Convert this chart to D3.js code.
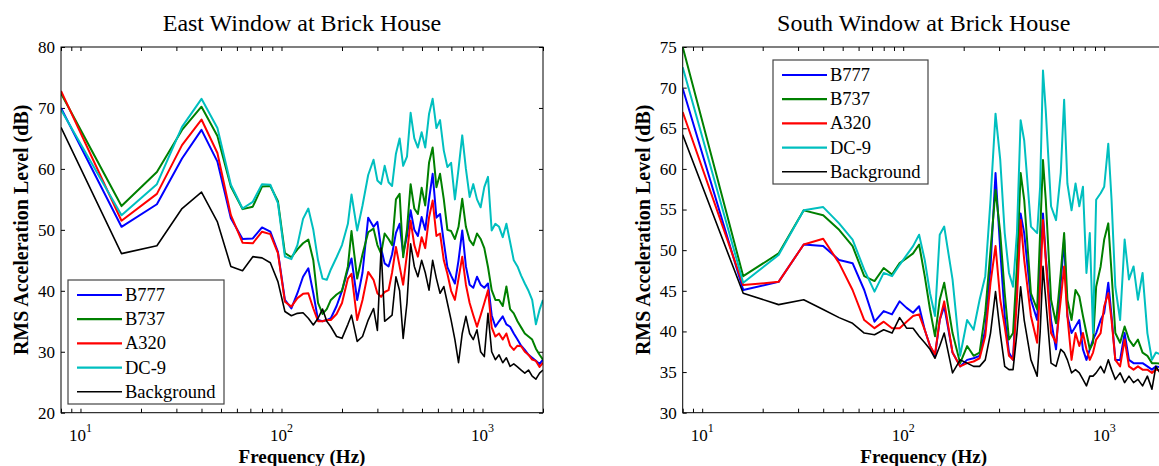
<!DOCTYPE html>
<html><head><meta charset="utf-8">
<script src="https://cdn.jsdelivr.net/npm/d3@7"></script>
<style>
body{margin:0;background:#fff}
svg{display:block}
text{font-family:"Liberation Serif","Times New Roman",serif;fill:#000}
</style>
</head><body>
<svg id="c" width="1159" height="466"></svg>
<script>
const seriesNames = ["B777","B737","A320","DC-9","Background"];
const seriesColors = ["#0000ff","#008000","#ff0000","#00bfbf","#000000"];
const yTicksEast = [20,30,40,50,60,70,80];
const yTicksSouth = [30,35,40,45,50,55,60,65,70,75];
const xMajorTicks = [10,100,1000];

// ---- East window (Hz) ----
const eastFreq = [8,16,24,32,40,48,56,64,72,80,88,96,104,112,120,128,136,144,152,160,
168,176,188,200,
214,223,238,253,270,287,300,313,326,341,
355,371,387,403,421,439,458,477,498,519,
542,565,590,615,642,669,698,729,760,793,
827,863,900,939,979,1021,1065,1111,1159,1209,
1261,1315,1372,1431,1493,1557,1624,1694,1767,1844,
1923,2000];
const eastB777 = [70,50.5,54.2,61.7,66.4,61.2,51.9,48.5,48.6,50.4,49.7,46.4,38.5,37.1,39.6,42.3,43.7,39.6,35.2,35,
35.2,35.5,37.5,40,
43.5,45.3,38.5,43,52,50.5,51.3,47,44.5,44,
46,49.5,51,46.1,49,53.2,50,49,52.1,50,
55,59.2,52,52.6,48,43.9,42.5,41.2,45,49.9,
44,41,40.5,42.3,41,40.5,41.2,36,34.1,35,
35.8,34.5,34.1,33,32,31,30.3,29.5,29,28.5,
28,28.7];
const eastB737 = [72.4,53.9,59.5,66.4,70.2,65.4,57.1,53.4,53.8,57.1,57.2,54.7,46.2,45.5,46.8,47.8,48.4,45,38,36.2,
37,38.5,39.4,40,
44,49.8,42,46,49.6,50.2,47.5,46.1,49.4,48.5,
47.5,55,55.9,45.5,50,57.5,53.5,52.6,56.9,54,
61,63.5,57,59.2,55,50,49.8,48.5,50.5,55.1,
50.5,48.3,47.5,49.4,48.5,47,43.9,40.1,38.5,38.5,
37.5,40.7,37,36.3,35,34,33,32.5,32,30.5,
29.5,28.7];
const eastA320 = [72.8,51.5,55.9,63.9,68.1,62.6,52.4,47.9,47.8,49.7,49.3,46.2,38.2,37.4,38.8,39.5,39.6,37.1,35,35,
35.2,35.2,36.2,38,
42,42.8,35.2,38.5,43.1,41.8,39.6,39,39.8,40.1,
43,47.2,44,41,46,51.5,47.5,45.6,48.8,47,
52,54.8,49,49.4,45,42.8,40,38.5,42,45.6,
41,38,36,34.1,36,38,40.1,34,32.5,33,
32,33,31,30.3,31,30.9,30,29.5,28.7,28.5,
27.5,28.2];
const eastDC9 = [69.7,52.4,57.5,66.9,71.5,66.7,57.4,53.5,54.6,57.5,57.4,54.4,45.6,45.2,47.5,51.8,53.5,50,45,42,
41.8,43.5,45.5,47.5,
51,55.8,49.9,54,59,61.5,58.1,57.5,60.5,57.8,
57.2,62.5,65,60.5,62,69.2,65,63.5,66,63.5,
69,71.5,66.7,68,63,60.3,61,55,60,65.5,
60,55.4,57.5,55,53.7,57,58.7,49.9,51,50.5,
48.8,51,48,45,44,42.5,41.2,40,38.5,34.5,
36.9,38.5];
const eastBackground = [66.8,46.1,47.4,53.5,56.2,51.3,44,43.3,45.6,45.4,44.6,41.5,36.6,35.9,36.3,36.4,35.5,34.4,35.5,37,
35,34.1,32.5,32.2,
34.5,36,31.7,32.5,35.2,37.1,33.5,47,35,35.5,
36,42.3,40,32.2,38,47.7,44,42.3,45,43,
40.1,45,42,39.6,40.7,38,35.2,32,28.2,33,
35.8,33,32,33.6,30,29.2,36.3,30,28.7,29.5,
28.2,29,27.6,28,27.5,27,26.5,27,26,25.5,
26.5,27];

// ---- South window (Hz) ----
const southFreq = [8,16,24,32,40,48,56,64,72,80,88,96,104,112,120,128,136,144,152,160,
176,192,208,224,240,256,272,288,304,320,
336,352,368,384,400,432,464,480,496,512,
544,576,608,632,656,688,720,752,784,816,
848,880,912,960,1000,1048,1088,1136,1200,1264,
1328,1400,1472,1552,1640,1728,1808,2000];
const southB777 = [69.9,45.1,46.1,50.7,50.5,48.8,48.4,45.1,41.2,42.5,42.1,43.7,42.9,42.3,43.1,40.2,38.2,37,41.4,43.1,
37.4,35.7,36.5,36.7,37,40.2,48,59.5,50,41.9,
37.4,36.5,46,54.5,52.1,43.9,41.4,48,54.5,49.2,
41.4,37.8,46,51.3,41.9,39.8,40.6,41.4,37.8,36.5,
37.8,39,39.8,41.4,42.3,46,41.9,36.5,36.5,39.8,
36.5,36.1,36.1,36.1,35.7,35.3,35.7,35.5];
const southB737 = [75,46.8,49.6,54.9,54.3,52.5,50.5,46.8,46.2,47.8,47,48.4,49,49.6,50.7,46.8,42.7,39.4,43.9,46,
39.8,36.1,38.2,37,37.4,42.3,50,57.4,52.1,44.7,
39,39.8,48,59.5,56.2,44.7,42.7,52.1,61.1,56.2,
43.9,41,47.2,52.1,43.9,41.4,45.1,44.3,41.9,39.8,
37.8,38.6,45.5,48,51.3,53.3,47.2,39.8,38.6,40.6,
39,38.2,39,37.4,37,36.1,36.1,36];
const southA320 = [67,45.7,46.1,50.7,51.4,48.4,45.1,41.4,40.4,41.2,40.4,40.4,41.2,41.9,42.1,40.2,38.2,37.2,41.4,43.7,
37.4,35.7,36.1,36.3,36.7,39.4,46,50.5,43.9,40.6,
37,36.5,43.9,53.7,48.8,41.9,38.6,45.5,53.7,48.8,
39.8,38.6,43.9,48,41.9,36.5,39.8,38.2,39.8,37.8,
36.5,37.4,39,39.8,43.1,44.7,41.4,36.5,35.7,39,
35.7,35.3,35.7,35.3,35.3,34.9,35.3,35];
const southDC9 = [72.5,46,49.4,54.9,55.3,53.3,51.3,47.6,44.9,47.2,46.8,48.2,49.4,50.5,51.9,48.8,44.7,41.9,51.9,52.9,
46.4,37,41.4,40.2,43.9,46.8,56.2,66.8,61.1,52.1,
47.2,45.5,52.1,66,63.5,52.9,52.1,57.8,72.1,67.2,
55.4,53.7,59.5,68.5,58.2,54.9,58.2,55.4,57.8,47.2,
52.1,39.8,56.2,57,57.8,63.1,56.2,45.5,41.4,51.3,
46.4,48,43.9,47.2,39.8,36.5,37.4,37];
const southBackground = [64.2,44.7,43.3,43.9,42.7,41.7,41,39.8,39.6,40.2,39.8,41.7,40.4,40.4,39.4,38.6,37.8,36.7,38.2,39.8,
34.9,36.5,36.1,35.7,35.7,36.5,39.8,44.9,39.8,35.7,
35.3,35.3,39.8,45.5,41.4,36.5,34.5,39.8,48,43.9,
36.1,35.7,37.8,37.4,36.5,34.9,35.3,34.9,34.1,33.3,
34.5,34.5,34.9,35.7,34.9,36.5,35.3,34.1,34.9,33.7,
34.5,33.7,34.1,33.3,34.5,32.9,35.7,34];

const svg = d3.select("#c");

function panel(cfg){
  const {left,right,top,bottom,yDomain,yTicks,freq,series,title,legend,id} = cfg;
  const x = d3.scaleLog().domain([8,2000]).range([left,right]);
  const y = d3.scaleLinear().domain(yDomain).range([bottom,top]);
  const g = svg.append("g");
  g.append("clipPath").attr("id",id).append("rect")
    .attr("x",left).attr("y",top).attr("width",right-left).attr("height",bottom-top);

  const minor = [];
  [1,10,100,1000].forEach(d=>{for(let k=2;k<=9;k++){const v=d*k; if(v>=8&&v<=2000&&v!==10&&v!==100&&v!==1000) minor.push(v);}});
  const tl = 4;
  const axB = g.append("g").attr("transform",`translate(0,${bottom})`)
    .call(d3.axisBottom(x).tickValues(xMajorTicks.concat(minor)).tickSize(-tl).tickFormat(""));
  const axT = g.append("g").attr("transform",`translate(0,${top})`)
    .call(d3.axisTop(x).tickValues(xMajorTicks.concat(minor)).tickSize(-tl).tickFormat(""));
  const axL = g.append("g").attr("transform",`translate(${left},0)`)
    .call(d3.axisLeft(y).tickValues(yTicks).tickSize(-tl).tickPadding(6).tickFormat(d3.format("d")));
  const axR = g.append("g").attr("transform",`translate(${right},0)`)
    .call(d3.axisRight(y).tickValues(yTicks).tickSize(-tl).tickFormat(""));
  [axB,axT,axL,axR].forEach(a=>{
    a.select(".domain").remove();
    a.selectAll("line").attr("stroke","#000");
  });
  axL.selectAll("text").attr("font-size",17).style("font-family",'"Liberation Serif",serif').attr("fill","#000");
  xMajorTicks.forEach(v=>{
    const t = g.append("text").attr("x",x(v)).attr("y",bottom+28).attr("text-anchor","middle").attr("font-size",17);
    t.append("tspan").text("10");
    t.append("tspan").attr("dy",-9).attr("font-size",12).text(String(Math.round(Math.log10(v))));
  });

  const line = d3.line().x((d,i)=>x(freq[i])).y(d=>y(d));
  const lg = g.append("g").attr("clip-path",`url(#${id})`);
  series.forEach((s,i)=>{
    lg.append("path").datum(s).attr("d",line).attr("fill","none")
      .attr("stroke",seriesColors[i]).attr("stroke-width",i===4?1.6:2).attr("stroke-linejoin","round");
  });

  g.append("rect").attr("x",left).attr("y",top).attr("width",right-left).attr("height",bottom-top)
    .attr("fill","none").attr("stroke","#000").attr("stroke-width",1);

  g.append("text").attr("x",(left+right)/2).attr("y",31).attr("text-anchor","middle")
    .attr("font-size",24).text(title);
  g.append("text").attr("x",(left+right)/2).attr("y",463).attr("text-anchor","middle")
    .attr("font-size",19).attr("font-weight","bold").text("Frequency (Hz)");
  g.append("text").attr("transform",`translate(${left-33},${(top+bottom)/2}) rotate(-90)`)
    .attr("text-anchor","middle").attr("font-size",20).attr("font-weight","bold")
    .text("RMS Acceleration Level (dB)");

  const L = g.append("g");
  L.append("rect").attr("x",legend.x).attr("y",legend.y).attr("width",legend.w).attr("height",legend.h)
    .attr("fill","#fff").attr("stroke","#444").attr("stroke-width",1.2);
  seriesNames.forEach((n,i)=>{
    const yy = legend.y + 15 + i*24.2;
    L.append("line").attr("x1",legend.x+9).attr("x2",legend.x+54).attr("y1",yy).attr("y2",yy)
      .attr("stroke",seriesColors[i]).attr("stroke-width",i===4?1.6:2.2);
    L.append("text").attr("x",legend.x+57).attr("y",yy+6).attr("font-size",18.5).text(n);
  });
}

panel({id:"clipE",left:61,right:543,top:47,bottom:412.7,yDomain:[20,80],yTicks:yTicksEast,
  freq:eastFreq,series:[eastB777,eastB737,eastA320,eastDC9,eastBackground],
  title:"East Window at Brick House",legend:{x:68,y:280,w:156,h:124}});
panel({id:"clipS",left:682.7,right:1164.7,top:47,bottom:412.7,yDomain:[30,75],yTicks:yTicksSouth,
  freq:southFreq,series:[southB777,southB737,southA320,southDC9,southBackground],
  title:"South Window at Brick House",legend:{x:773,y:60,w:155,h:124}});
</script>
</body></html>
